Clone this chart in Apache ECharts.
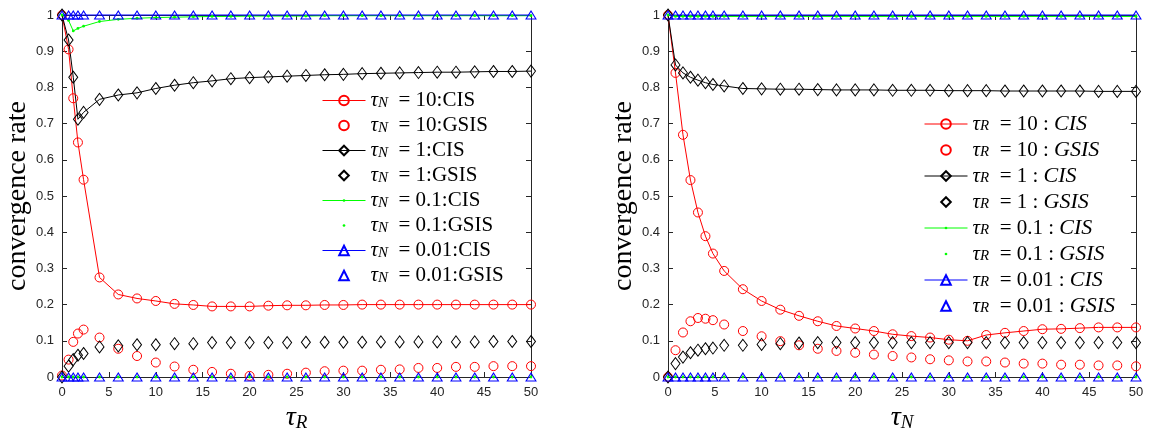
<!DOCTYPE html>
<html>
<head>
<meta charset="utf-8">
<script src="https://cdn.jsdelivr.net/npm/echarts@6/dist/echarts.min.js"></script>
<style>
  html, body { margin: 0; background: #fff; }
  #main { width: 1150px; height: 432px; }
</style>
</head>
<body>
<div id="main"></div>
<script>
// left panel: x = tau_R, curves for several tau_N
var leftX = [0, 0.7, 1.2, 1.7, 2.3, 4, 6, 8, 10, 12, 14, 16, 18, 20, 22, 24, 26, 28, 30, 32, 34, 36, 38, 40, 42, 44, 46, 48, 50];
var left10CIS = [1.0, 0.905, 0.77, 0.648, 0.545, 0.275, 0.228, 0.217, 0.21, 0.202, 0.199, 0.195, 0.195, 0.195, 0.197, 0.198, 0.198, 0.199, 0.199, 0.2, 0.2, 0.2, 0.2, 0.2, 0.2, 0.2, 0.2, 0.2, 0.2];
var left10GSIS = [0.004, 0.048, 0.097, 0.12, 0.131, 0.109, 0.078, 0.058, 0.04, 0.029, 0.02, 0.014, 0.009, 0.003, 0.006, 0.009, 0.012, 0.016, 0.0175, 0.0175, 0.02, 0.021, 0.025, 0.025, 0.028, 0.028, 0.03, 0.03, 0.03];
var left1CIS = [1.0, 0.931, 0.828, 0.712, 0.731, 0.767, 0.779, 0.785, 0.797, 0.806, 0.813, 0.818, 0.824, 0.827, 0.829, 0.831, 0.833, 0.835, 0.836, 0.838, 0.839, 0.84, 0.841, 0.842, 0.842, 0.843, 0.844, 0.844, 0.845];
var left1GSIS = [0.0, 0.03, 0.048, 0.06, 0.065, 0.083, 0.086, 0.089, 0.089, 0.092, 0.092, 0.095, 0.095, 0.095, 0.095, 0.095, 0.096, 0.096, 0.096, 0.096, 0.097, 0.097, 0.097, 0.097, 0.097, 0.097, 0.098, 0.098, 0.098];
var left01CIS = [1.0, 0.985, 0.956, 0.963, 0.969, 0.982, 0.988, 0.991, 0.993, 0.994, 0.995, 0.996, 0.996, 0.997, 0.997, 0.997, 0.997, 0.998, 0.998, 0.998, 0.998, 0.998, 0.998, 0.998, 0.998, 0.998, 0.998, 0.998, 0.998];
var left01GSIS = [0, 0, 0, 0, 0, 0, 0, 0, 0, 0, 0, 0, 0, 0, 0, 0, 0, 0, 0, 0, 0, 0, 0, 0, 0, 0, 0, 0, 0];
var left001CIS = [1, 1, 1, 1, 1, 1, 1, 1, 1, 1, 1, 1, 1, 1, 1, 1, 1, 1, 1, 1, 1, 1, 1, 1, 1, 1, 1, 1, 1];
var left001GSIS = [0, 0, 0, 0, 0, 0, 0, 0, 0, 0, 0, 0, 0, 0, 0, 0, 0, 0, 0, 0, 0, 0, 0, 0, 0, 0, 0, 0, 0];

// right panel: x = tau_N, curves for several tau_R
var rightX = [0, 0.8, 1.6, 2.4, 3.2, 4, 4.8, 6, 8, 10, 12, 14, 16, 18, 20, 22, 24, 26, 28, 30, 32, 34, 36, 38, 40, 42, 44, 46, 48, 50];
var right10CIS = [1.0, 0.84, 0.669, 0.544, 0.4545, 0.389, 0.341, 0.293, 0.2425, 0.21, 0.186, 0.169, 0.154, 0.141, 0.134, 0.127, 0.118, 0.113, 0.109, 0.103, 0.1, 0.116, 0.122, 0.127, 0.132, 0.133, 0.135, 0.137, 0.137, 0.137];
var right10GSIS = [0.0, 0.074, 0.123, 0.154, 0.163, 0.161, 0.157, 0.145, 0.127, 0.1125, 0.099, 0.0876, 0.078, 0.072, 0.067, 0.062, 0.058, 0.054, 0.049, 0.046, 0.043, 0.043, 0.04, 0.037, 0.037, 0.034, 0.034, 0.032, 0.032, 0.0295];
var right1CIS = [1.0, 0.862, 0.84, 0.828, 0.82, 0.813, 0.808, 0.804, 0.797, 0.796, 0.795, 0.795, 0.794, 0.793, 0.793, 0.793, 0.792, 0.792, 0.792, 0.791, 0.791, 0.791, 0.79, 0.79, 0.79, 0.79, 0.79, 0.789, 0.789, 0.789];
var right1GSIS = [0.0, 0.037, 0.055, 0.067, 0.074, 0.078, 0.08, 0.0876, 0.0876, 0.09, 0.092, 0.094, 0.095, 0.095, 0.095, 0.095, 0.095, 0.095, 0.095, 0.095, 0.095, 0.095, 0.095, 0.095, 0.095, 0.095, 0.095, 0.095, 0.095, 0.095];
var right01CIS = [1.0, 0.996, 0.996, 0.996, 0.996, 0.996, 0.996, 0.996, 0.996, 0.996, 0.996, 0.996, 0.996, 0.996, 0.996, 0.996, 0.996, 0.996, 0.996, 0.996, 0.996, 0.996, 0.996, 0.996, 0.996, 0.996, 0.996, 0.996, 0.996, 0.996];
var right01GSIS = [0, 0, 0, 0, 0, 0, 0, 0, 0, 0, 0, 0, 0, 0, 0, 0, 0, 0, 0, 0, 0, 0, 0, 0, 0, 0, 0, 0, 0, 0];
var right001CIS = [1, 1, 1, 1, 1, 1, 1, 1, 1, 1, 1, 1, 1, 1, 1, 1, 1, 1, 1, 1, 1, 1, 1, 1, 1, 1, 1, 1, 1, 1];
var right001GSIS = [0, 0, 0, 0, 0, 0, 0, 0, 0, 0, 0, 0, 0, 0, 0, 0, 0, 0, 0, 0, 0, 0, 0, 0, 0, 0, 0, 0, 0, 0];

var tauValues = ['10', '1', '0.1', '0.01'];
var xTicks = { min: 0, max: 50, interval: 5 };
var yTicks = { min: 0, max: 1, interval: 0.1 };

var chart = echarts.init(document.getElementById('main'));

var axisColor = '#262626';
var serif = 'Liberation Serif';
// small filled dot with padding, like matlab '.'
var dotPath = 'path://M0 0M10 10M3.6 5a1.4 1.4 0 1 0 2.8 0a1.4 1.4 0 1 0 -2.8 0z';

var marks = [
  { color: '#ff0000', symbol: 'circle', size: 9 },
  { color: '#000000', symbol: 'diamond', size: [9, 12] },
  { color: '#00ff00', symbol: dotPath, size: 10, filled: true },
  { color: '#0000ff', symbol: 'triangle', size: [10, 8] }
];

var mathRich = {
  t: { fontFamily: serif, fontStyle: 'italic', fontSize: 21, lineHeight: 20, color: '#000' },
  s: { fontFamily: serif, fontStyle: 'italic', fontSize: 15, lineHeight: 2, verticalAlign: 'bottom', color: '#000' },
  n: { fontFamily: serif, fontSize: 21, lineHeight: 20, color: '#000' },
  i: { fontFamily: serif, fontStyle: 'italic', fontSize: 22, lineHeight: 20, color: '#000' }
};

function legendText(name) {
  var p = name.split('|');
  var s = '{t|τ}{s|' + p[0] + '}{n|  = ' + p[1] + '}';
  if (p[2]) s += '{i|' + p[2] + '}';
  return s;
}

function buildSeries(side, xs, cis, gsis) {
  var out = [];
  var items = [];
  for (var i = 0; i < 4; i++) {
    [cis[i], gsis[i]].forEach(function (ys, k) {
      var m = marks[i];
      var kind = k ? 'GSIS' : 'CIS';
      var name = side === 0
        ? 'N|' + tauValues[i] + ':' + kind + '|'
        : 'R|' + tauValues[i] + ' : |' + kind;
      items.push({
        name: name,
        lineStyle: { color: m.color, width: 1, opacity: k ? 0 : 1 }
      });
      out.push({
        type: 'line',
        name: name,
        xAxisIndex: side * 2,
        yAxisIndex: side * 2,
        data: xs.map(function (x, j) { return [x, ys[j]]; }),
        symbol: m.symbol,
        symbolSize: m.size,
        showSymbol: true,
        clip: false,
        silent: true,
        lineStyle: { color: m.color, width: k ? 0 : 1 },
        itemStyle: {
          color: m.filled ? m.color : 'transparent',
          borderColor: m.color,
          borderWidth: m.filled ? 0 : 1
        }
      });
    });
  }
  return { series: out, items: items };
}

var left = buildSeries(0, leftX,
  [left10CIS, left1CIS, left01CIS, left001CIS],
  [left10GSIS, left1GSIS, left01GSIS, left001GSIS]);
var right = buildSeries(1, rightX,
  [right10CIS, right1CIS, right01CIS, right001CIS],
  [right10GSIS, right1GSIS, right01GSIS, right001GSIS]);

function xAxes(grid, sub) {
  var base = {
    gridIndex: grid, type: 'value', min: xTicks.min, max: xTicks.max, interval: xTicks.interval,
    axisLine: { onZero: false, lineStyle: { color: axisColor, width: 1 } },
    axisTick: { inside: true, length: 5, lineStyle: { color: axisColor } },
    splitLine: { show: false }
  };
  return [
    Object.assign({}, base, {
      position: 'bottom',
      axisLabel: { color: axisColor, fontFamily: 'Liberation Sans', fontSize: 13, margin: 9 },
      name: '{t|τ}{s|' + sub + '}',
      nameLocation: 'middle',
      nameGap: 27,
      nameTextStyle: {
        rich: {
          t: { fontFamily: serif, fontStyle: 'italic', fontSize: 28, lineHeight: 28, color: '#000' },
          s: { fontFamily: serif, fontStyle: 'italic', fontSize: 19, lineHeight: 2, verticalAlign: 'bottom', color: '#000' }
        }
      }
    }),
    Object.assign({}, base, { position: 'top', axisLabel: { show: false } })
  ];
}

function yAxes(grid) {
  var base = {
    gridIndex: grid, type: 'value', min: yTicks.min, max: yTicks.max, interval: yTicks.interval,
    axisLine: { onZero: false, lineStyle: { color: axisColor, width: 1 } },
    axisTick: { inside: true, length: 5, lineStyle: { color: axisColor } },
    splitLine: { show: false }
  };
  return [
    Object.assign({}, base, {
      position: 'left',
      axisLabel: { color: axisColor, fontFamily: 'Liberation Sans', fontSize: 13, margin: 8 },
      name: 'convergence rate',
      nameLocation: 'middle',
      nameGap: 30,
      nameTextStyle: { fontFamily: serif, fontSize: 28, color: '#000' }
    }),
    Object.assign({}, base, { position: 'right', axisLabel: { show: false } })
  ];
}

function legendFor(items, leftPos, topPos) {
  return {
    data: items,
    orient: 'vertical',
    left: leftPos,
    top: topPos,
    padding: 0,
    itemWidth: 43,
    itemHeight: 12,
    itemGap: 4,
    selectedMode: false,
    formatter: legendText,
    textStyle: { rich: mathRich }
  };
}

var option = {
  animation: false,
  backgroundColor: '#ffffff',
  grid: [
    { left: 62, top: 15, width: 469, height: 362, outerBoundsMode: 'none' },
    { left: 668, top: 15, width: 468, height: 362, outerBoundsMode: 'none' }
  ],
  xAxis: xAxes(0, 'R').concat(xAxes(1, 'N')),
  yAxis: yAxes(0).concat(yAxes(1)),
  legend: [
    legendFor(left.items, 322, 90),
    legendFor(right.items, 924, 113)
  ],
  series: left.series.concat(right.series)
};

chart.setOption(option);
</script>
</body>
</html>
